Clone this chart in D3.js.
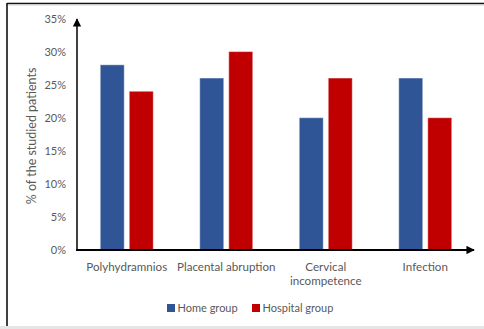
<!DOCTYPE html>
<html>
<head>
<meta charset="utf-8">
<script src="https://cdn.jsdelivr.net/npm/d3@7"></script>
<style>
  html, body { margin: 0; padding: 0; background: #fff; }
  svg { display: block; }
  text { font-family: Lato, "Open Sans", sans-serif; fill: #595959; }
</style>
</head>
<body>
<svg id="chart" width="484" height="329"></svg>
<script>
// Share of studied patients by complication and care setting
const categories = [["Polyhydramnios"], ["Placental abruption"], ["Cervical", "incompetence"], ["Infection"]];
const seriesNames = ["Home group", "Hospital group"];
const homeValues = [0.28, 0.26, 0.20, 0.26];
const hospitalValues = [0.24, 0.30, 0.26, 0.20];
const yTicks = [0, 0.05, 0.10, 0.15, 0.20, 0.25, 0.30, 0.35];
const colors = ["#2F5597", "#C00000"];

const svg = d3.select("#chart");

// frame around the figure
svg.append("line").attr("x1", 7).attr("x2", 484).attr("y1", 3.5).attr("y2", 3.5)
  .attr("stroke", "#111").attr("stroke-width", 1.6);
svg.append("line").attr("x1", 7).attr("x2", 484).attr("y1", 5.2).attr("y2", 5.2)
  .attr("stroke", "#ddd").attr("stroke-width", 1);
svg.append("line").attr("x1", 7).attr("x2", 7).attr("y1", 3).attr("y2", 326)
  .attr("stroke", "#111").attr("stroke-width", 1.6);
svg.append("rect").attr("x", 0).attr("y", 326).attr("width", 484).attr("height", 3)
  .attr("fill", "#e6e6e6");

const x0 = d3.scaleBand()
  .domain(d3.range(categories.length))
  .range([77, 475])
  .paddingInner(0.467)
  .paddingOuter(0.2335);

const x1 = d3.scaleBand()
  .domain(seriesNames)
  .range([0, x0.bandwidth()])
  .paddingInner(0.1724);

const y = d3.scaleLinear().domain([0, 0.35]).range([250, 18.5]);

// y tick labels
const yAxis = d3.axisLeft(y).tickValues(yTicks).tickFormat(d3.format(".0%")).tickSize(0).tickPadding(11);
const gy = svg.append("g").attr("transform", "translate(77,0)").call(yAxis);
gy.select(".domain").remove();
gy.selectAll("text").attr("font-size", 11).attr("font-family", "Lato, sans-serif").attr("fill", "#595959");

// bars
const rows = categories.map((c, i) => [homeValues[i], hospitalValues[i]]);
const groups = svg.append("g").selectAll("g").data(rows).join("g")
  .attr("transform", (d, i) => `translate(${x0(i)},0)`);
groups.selectAll("rect")
  .data(d => d.map((v, j) => ({ v, s: seriesNames[j], j })))
  .join("rect")
  .attr("x", d => x1(d.s))
  .attr("y", d => y(d.v))
  .attr("width", x1.bandwidth())
  .attr("height", d => y(0) - y(d.v))
  .attr("fill", d => colors[d.j])
  .attr("stroke", "rgba(255,255,255,0.45)")
  .attr("stroke-width", 1);

// axes with arrowheads
const defs = svg.append("defs");
defs.append("marker").attr("id", "arrow")
  .attr("viewBox", "0 0 10 10").attr("refX", 9).attr("refY", 5)
  .attr("markerWidth", 4.2).attr("markerHeight", 4.2).attr("markerUnits", "strokeWidth")
  .attr("orient", "auto")
  .append("path").attr("d", "M0,0 L10,5 L0,10 Z").attr("fill", "#000");

svg.append("line").attr("x1", 77).attr("y1", y(0)).attr("x2", 77).attr("y2", 19)
  .attr("stroke", "#404040").attr("stroke-width", 2).attr("marker-end", "url(#arrow)");
svg.append("line").attr("x1", 76).attr("y1", y(0)).attr("x2", 474).attr("y2", y(0))
  .attr("stroke", "#000").attr("stroke-width", 2).attr("marker-end", "url(#arrow)");

// category labels
const labels = svg.append("g").selectAll("text").data(categories).join("text")
  .attr("x", (d, i) => x0(i) + x0.bandwidth() / 2)
  .attr("y", 270.5)
  .attr("text-anchor", "middle")
  .attr("font-size", 11.6);
labels.selectAll("tspan").data(d => d).join("tspan")
  .attr("x", function () { return this.parentNode.getAttribute("x"); })
  .attr("dy", (d, i) => i === 0 ? 0 : 14.5)
  .text(d => d);

// y axis title
svg.append("text")
  .attr("transform", `translate(36,${136}) rotate(-90)`)
  .attr("text-anchor", "middle")
  .attr("font-size", 12.5)
  .text("% of the studied patients");

// legend
const legendX = [167, 252];
const legend = svg.append("g").selectAll("g").data(seriesNames).join("g")
  .attr("transform", (d, i) => `translate(${legendX[i]},304)`);
legend.append("rect").attr("width", 8).attr("height", 8).attr("fill", (d, i) => colors[i]);
legend.append("text").attr("x", 10.5).attr("y", 8).attr("font-size", 11).text(d => d);
</script>
</body>
</html>
